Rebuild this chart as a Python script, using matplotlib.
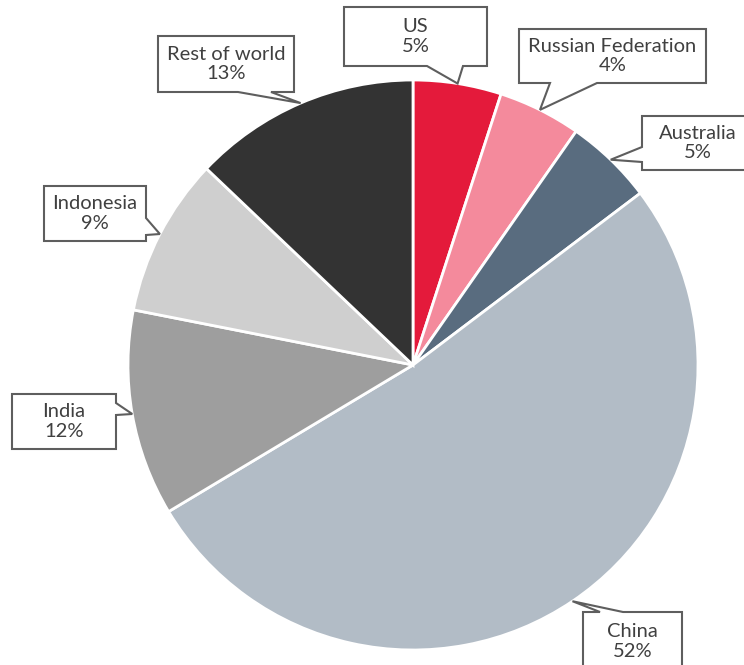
import numpy as np
import matplotlib.pyplot as plt
from matplotlib.patches import Polygon

countries = ["US", "Russian Federation", "Australia", "China", "India", "Indonesia", "Rest of world"]
shares = [5.0, 4.7, 5.0, 51.7, 11.7, 9.0, 12.9]
share_labels = ["5%", "4%", "5%", "52%", "12%", "9%", "13%"]
colors = ["#E41A3B", "#F48A9C", "#596C7F", "#B2BCC6", "#9E9E9E", "#CFCFCF", "#333333"]

W, H = 744, 665
cx, cy, r = 413, 365, 285  # pie centre / radius in image pixels

# callout boxes (image pixels): x0, y0, x1, y1, side of pointer, pointer base on that side
boxes = [
    (344, 7, 487, 66, "bottom", (427, 463)),
    (519, 29, 706, 83, "bottom", (550, 597)),
    (642, 116, 753, 170, "left", (147, 162)),
    (583, 612, 682, 680, "top", (600, 623)),
    (12, 394, 116, 449, "right", (403, 415)),
    (44, 186, 146, 241, "right", (218, 235)),
    (158, 36, 294, 92, "bottom", (238, 271)),
]

fig = plt.figure(figsize=(W / 100, H / 100), dpi=100)
ax = fig.add_axes([0, 0, 1, 1])

wedges, _ = ax.pie(shares, colors=colors, startangle=90, counterclock=False,
                   center=(cx, H - cy), radius=r,
                   wedgeprops=dict(edgecolor="white", linewidth=2))
ax.set_xlim(0, W)
ax.set_ylim(0, H)
ax.set_aspect("equal")
ax.axis("off")


def flip(p):
    return (p[0], H - p[1])


for w, name, lab, (x0, y0, x1, y1, side, (a, b)) in zip(wedges, countries, share_labels, boxes):
    mid = np.deg2rad((w.theta1 + w.theta2) / 2)
    tip = (cx + r * np.cos(mid), cy - r * np.sin(mid))
    if side == "bottom":
        pts = [(x0, y0), (x1, y0), (x1, y1), (b, y1), tip, (a, y1), (x0, y1)]
    elif side == "top":
        pts = [(x0, y0), (a, y0), tip, (b, y0), (x1, y0), (x1, y1), (x0, y1)]
    elif side == "left":
        pts = [(x0, y0), (x1, y0), (x1, y1), (x0, y1), (x0, b), tip, (x0, a)]
    else:
        pts = [(x0, y0), (x1, y0), (x1, a), tip, (x1, b), (x1, y1), (x0, y1)]
    ax.add_patch(Polygon([flip(p) for p in pts], closed=True, facecolor="white",
                         edgecolor="#5E5E5E", linewidth=1.5, joinstyle="miter", zorder=3))
    tx = (x0 + x1) / 2
    ty = (y0 + min(y1, y0 + 59)) / 2
    ax.text(tx, H - ty, f"{name}\n{lab}", ha="center", va="center",
            fontsize=14.5, family="Lato", color="#404040", linespacing=1.15, zorder=4)

fig.savefig("out.png", dpi=100)
